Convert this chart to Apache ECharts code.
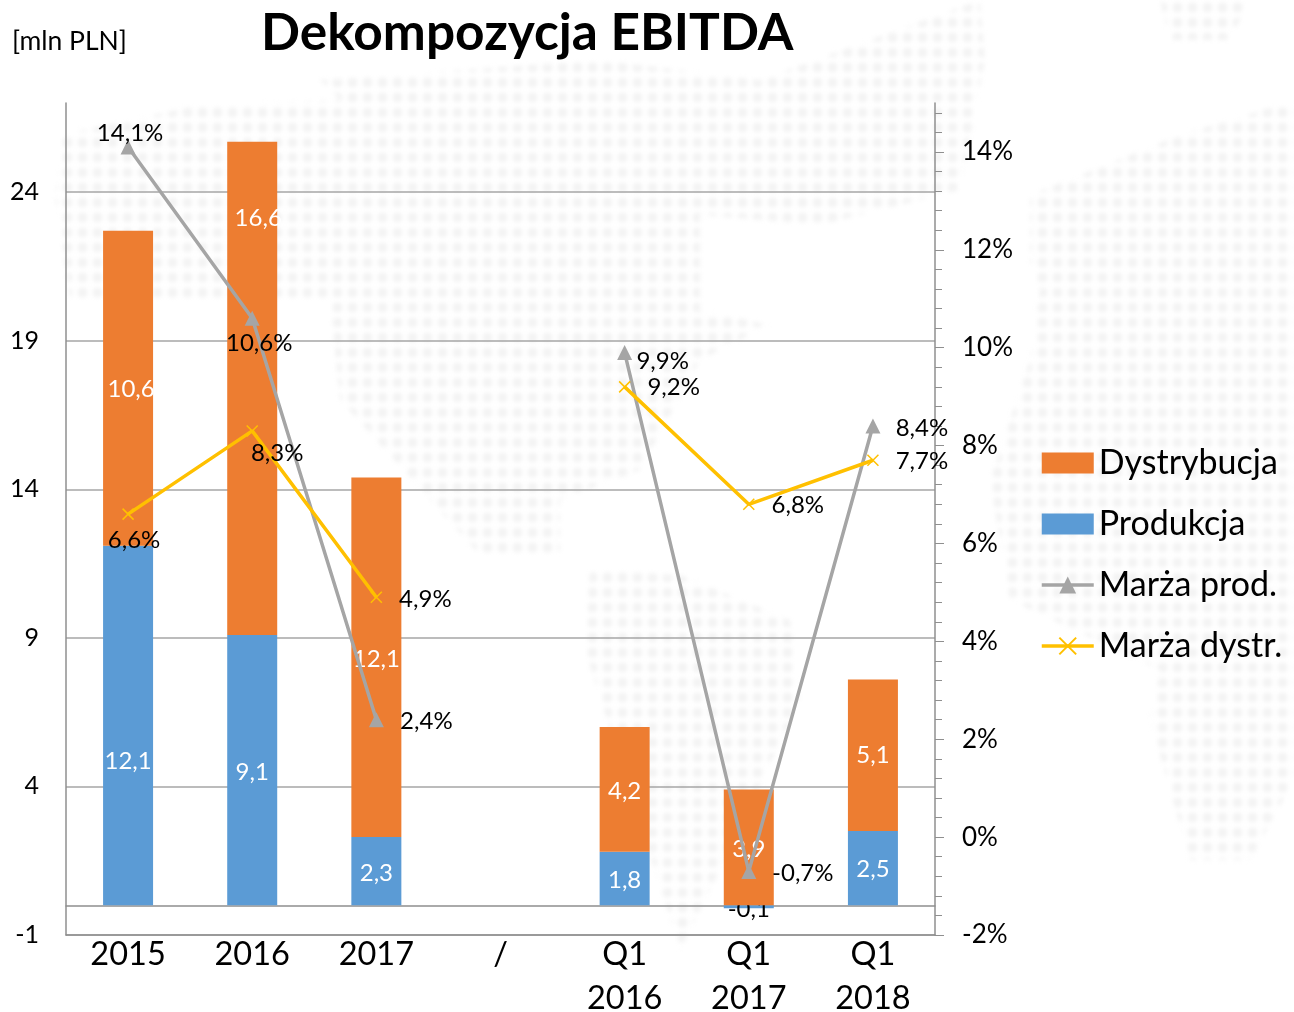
<!DOCTYPE html>
<html><head><meta charset="utf-8">
<script src="https://cdn.jsdelivr.net/npm/echarts@6/dist/echarts.min.js"></script>
<style>
html,body{margin:0;padding:0;background:#fff;overflow:hidden}
#wm{position:absolute;left:0;top:0;width:1294px;height:1012px;filter:blur(2px)}
#wm div{width:100%;height:100%;background:radial-gradient(circle,#f3f3f3 4px,rgba(243,243,243,0) 6px) 0 0/15px 15px;
clip-path:path('M60 135L200 105L340 100L320 80L600 60L760 80L980 0L985 60L960 190L820 225L700 215L700 310L770 325L700 360L640 470L560 500L560 555L480 555L340 400L330 300L70 300L55 200Z M590 570L680 575L790 620L800 700L730 850L680 950L620 760L585 650Z M1030 195L1180 135L1280 105L1294 100L1294 780L1250 860L1190 860L1150 720L1160 670L1010 600L990 480L1030 360L1040 290L1030 260Z M1160 0L1250 0L1230 40L1170 40Z')}
#c{position:absolute;left:0;top:0;width:1294px;height:1012px}
</style></head><body>
<div id="wm"><div></div></div>
<div id="c"></div>
<script>
var categories = ['2015','2016','2017','/','Q1\n2016','Q1\n2017','Q1\n2018'];
var produkcja = [12.1,9.1,2.3,null,1.8,-0.1,2.5];
var dystrybucja = [10.6,16.6,12.1,null,4.2,3.9,5.1];
var marzaProd = [14.1,10.6,2.4,null,9.9,-0.7,8.4];
var marzaDystr = [6.6,8.3,4.9,null,9.2,6.8,7.7];
var leftTicks = [-1,4,9,14,19,24];
var rightTicks = [-2,0,2,4,6,8,10,12,14];
var rightMinor = [-1.6,-1.2,-0.8,-0.4,0.4,0.8,1.2,1.6,2.4,2.8,3.2,3.6,4.4,4.8,5.2,5.6,6.4,6.8,7.2,7.6,8.4,8.8,9.2,9.6,10.4,10.8,11.2,11.6,12.4,12.8,13.2,13.6,14.4,14.8];

var prodBarOffsets = [[0,36],[0,2],[0,2],null,[0,2],[0,2],[0,1]];
var distBarOffsets = [[3,1],[6,-170],[0,2],null,[0,2],[0,2],[0,0]];
var prodLineOffsets = [[2,-14],[7,25],[50,2],null,[38,9],[54,2],[49,2]];
var distLineOffsets = [[6,26],[25,22],[49,2],null,[49,0],[49,1],[49,1]];

var FONT = 'Lato';
var AXIS = '#8f8f8f';
function comma(v,s){return String(v.toFixed(1)).replace('.',',')+(s||'');}
function barData(vals,offs){
  return vals.map(function(v,i){
    if(v===null) return null;
    return {value:v,label:{offset:offs[i],color:v<0?'#000':'#fff',formatter:comma(v)}};
  });
}
function lineData(vals,offs){
  return vals.map(function(v,i){
    if(v===null) return null;
    return {value:v,label:{offset:offs[i],formatter:comma(v,'%')}};
  });
}
var barLabel={show:true,position:'inside',fontFamily:FONT,fontSize:24,color:'#fff'};
var lineLabel={show:true,position:'inside',align:'center',verticalAlign:'middle',fontFamily:FONT,fontSize:24,color:'#000'};

var chart=echarts.init(document.getElementById('c'),null,{renderer:'canvas'});
chart.setOption({
  backgroundColor:'transparent',
  animation:false,
  textStyle:{fontFamily:FONT},
  title:[
    {text:'Dekompozycja EBITDA',left:256,top:3,textStyle:{fontFamily:FONT,fontWeight:'bold',fontSize:51.4,color:'#000'}},
    {text:'[mln PLN]',left:7,top:23,textStyle:{fontFamily:FONT,fontWeight:'normal',fontSize:26.5,color:'#000'}}
  ],
  legend:{
    orient:'vertical',left:1035,top:441,
    itemWidth:52,itemHeight:21,itemGap:27,
    lineStyle:{width:3.5},
    data:[{name:'Dystrybucja',icon:'rect'},{name:'Produkcja',icon:'rect'},'Marża prod.','Marża dystr.'],
    textStyle:{fontFamily:FONT,fontSize:34,color:'#000'},
    selectedMode:false
  },
  grid:{left:66,right:359,top:103,bottom:77,outerBoundsMode:'none'},
  xAxis:[
    {type:'category',data:categories,position:'bottom',
     axisLine:{onZero:false,lineStyle:{color:AXIS,width:1.5}},axisTick:{show:false},
     axisLabel:{fontFamily:FONT,fontSize:32.5,color:'#000',lineHeight:44,margin:-2,interval:0}},
    {type:'category',data:categories,position:'bottom',
     axisLine:{onZero:true,lineStyle:{color:AXIS,width:1.5}},axisTick:{show:false},axisLabel:{show:false}}
  ],
  yAxis:[
    {type:'value',min:-1,max:27,position:'left',
     axisLine:{show:true,onZero:false,lineStyle:{color:AXIS,width:1.5}},
     axisTick:{show:false,customValues:leftTicks},
     axisLabel:{customValues:leftTicks,fontFamily:FONT,fontSize:25,color:'#000',margin:27,align:'right'},
     splitLine:{show:true,lineStyle:{color:'#a6a6a6',width:1.5}}},
    {type:'value',min:-2,max:15,position:'right',
     axisLine:{show:true,onZero:false,lineStyle:{color:AXIS,width:1.5}},
     axisTick:{show:true,length:9,customValues:rightTicks,lineStyle:{color:AXIS,width:1}},
     axisLabel:{customValues:rightTicks,fontFamily:FONT,fontSize:26,color:'#000',margin:27,align:'left',
       formatter:function(v){return v+'%';}},
     splitLine:{show:false}},
    {type:'value',min:-2,max:15,position:'right',
     axisLine:{show:false},
     axisTick:{show:true,length:7,customValues:rightMinor,lineStyle:{color:AXIS,width:1}},
     axisLabel:{show:false},splitLine:{show:false}}
  ],
  series:[
    {name:'Produkcja',type:'bar',stack:'e',barWidth:50,xAxisIndex:0,yAxisIndex:0,
     itemStyle:{color:'#5B9BD5'},label:barLabel,z:2,data:barData(produkcja,prodBarOffsets)},
    {name:'Dystrybucja',type:'bar',stack:'e',barWidth:50,xAxisIndex:0,yAxisIndex:0,
     itemStyle:{color:'#ED7D31'},label:barLabel,z:3,data:barData(dystrybucja,distBarOffsets)},
    {name:'Marża prod.',type:'line',xAxisIndex:0,yAxisIndex:1,z:5,
     symbol:'triangle',symbolSize:15,showAllSymbol:true,
     lineStyle:{color:'#A5A5A5',width:3.5},itemStyle:{color:'#A5A5A5'},
     label:lineLabel,data:lineData(marzaProd,prodLineOffsets)},
    {name:'Marża dystr.',type:'line',xAxisIndex:0,yAxisIndex:1,z:6,
     symbol:'path://M0 0L10 10M10 0L0 10',symbolSize:11,showAllSymbol:true,
     lineStyle:{color:'#FFC000',width:3.5},itemStyle:{color:'#FFC000',borderColor:'#FFC000',borderWidth:1.5},
     label:lineLabel,data:lineData(marzaDystr,distLineOffsets)}
  ]
});
</script>
</body></html>
